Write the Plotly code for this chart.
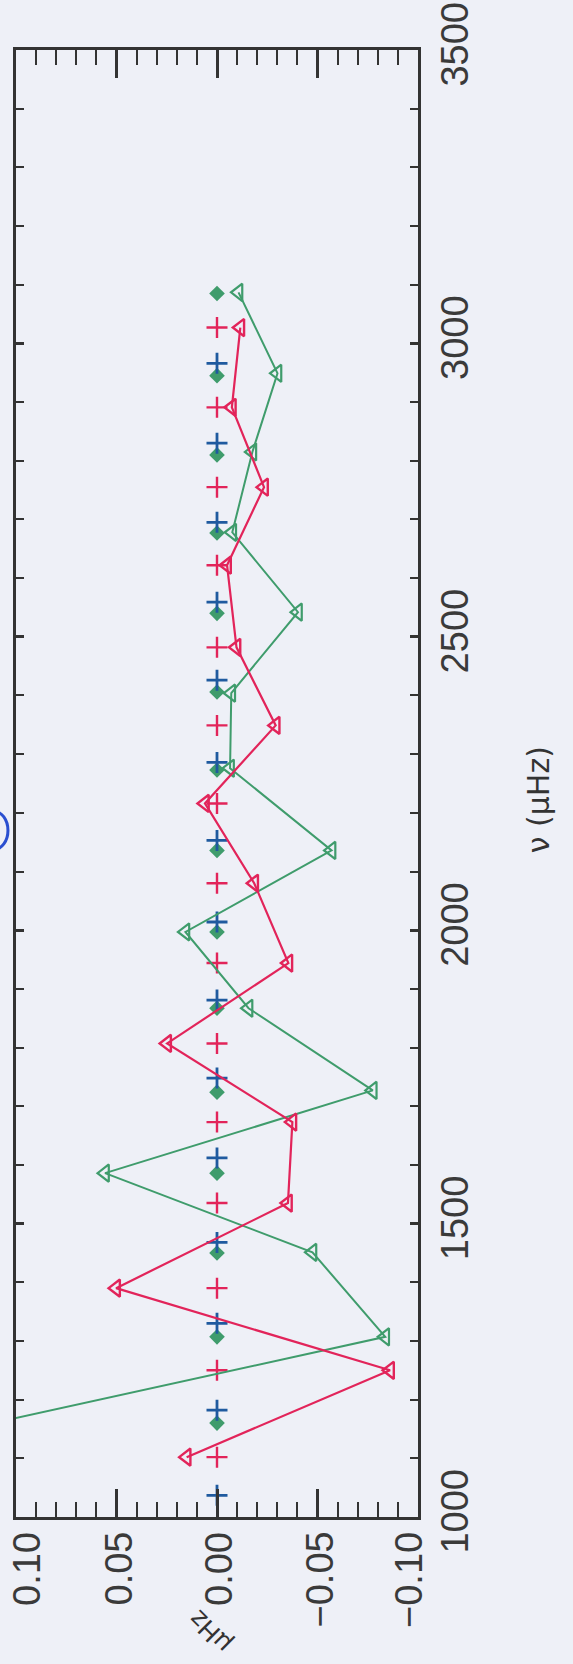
import plotly.graph_objects as go

# frequencies (muHz) and frequency differences
nu_red = [1102, 1250, 1390, 1535, 1673, 1807, 1944, 2080, 2216, 2349, 2482, 2622, 2755, 2891, 3027]
d_red = [0.0151, -0.0861, 0.0502, -0.0353, -0.0375, 0.0248, -0.0355, -0.0185, 0.006, -0.0292,
         -0.0097, -0.005, -0.0234, -0.0074, -0.0116]

nu_green = [1160, 1307, 1451, 1586, 1727, 1867, 1997, 2136, 2276, 2404, 2542, 2678, 2815, 2949, 3087]
d_green = [0.1115, -0.0837, -0.0475, 0.0557, -0.0775, -0.0157, 0.0157, -0.057, -0.0065, -0.0071,
           -0.0403, -0.0076, -0.0176, -0.0301, -0.0107]

nu_blue = [1037, 1182, 1330, 1468, 1612, 1748, 1881, 2014, 2153, 2286, 2426, 2559, 2695, 2830, 2966]
nu_diamond = [1160, 1307, 1450, 1586, 1724, 1867, 1997, 2136, 2273, 2406, 2540, 2677, 2810, 2945, 3085]

x_tickvals = [0.10, 0.05, 0.0, -0.05, -0.10]
x_ticktext = ["0.10", "0.05", "0.00", "\u22120.05", "\u22120.10"]
y_tickvals = [1000, 1500, 2000, 2500, 3000, 3500]
y_ticktext = ["1000", "1500", "2000", "2500", "3000", "3500"]

RED = "#e2245a"
GREEN = "#3f9c6c"
BLUE = "#1f5a9f"
BG = "#eef0f7"
AX = "#333333"

fig = go.Figure()

fig.add_trace(go.Scatter(
    x=[0] * len(nu_red), y=nu_red, mode="markers",
    marker=dict(symbol="cross-thin", size=15, line=dict(color=RED, width=2.4)),
))
fig.add_trace(go.Scatter(
    x=[0] * len(nu_diamond), y=nu_diamond, mode="markers",
    marker=dict(symbol="diamond", size=12, color=GREEN),
))
fig.add_trace(go.Scatter(
    x=[0] * len(nu_blue), y=nu_blue, mode="markers",
    marker=dict(symbol="cross-thin", size=15, line=dict(color=BLUE, width=2.8)),
))
fig.add_trace(go.Scatter(
    x=d_green, y=nu_green, mode="lines+markers",
    line=dict(color=GREEN, width=2),
    marker=dict(symbol="triangle-left-open", size=15, color=GREEN, line=dict(width=2.2)),
))
fig.add_trace(go.Scatter(
    x=d_red, y=nu_red, mode="lines+markers",
    line=dict(color=RED, width=2.2),
    marker=dict(symbol="triangle-left-open", size=15, color=RED, line=dict(width=2.4)),
))

tickfont = dict(family="Liberation Sans, Arial, sans-serif", size=38, color="#3a3a3a")

fig.update_xaxes(
    range=[0.10, -0.10], tickmode="array", tickvals=x_tickvals, showticklabels=False,
    ticks="inside", ticklen=28, tickwidth=2.5,
    tickcolor=AX, showline=True, linecolor=AX, linewidth=2.5, mirror="ticks",
    showgrid=False, zeroline=False, automargin=False,
    minor=dict(dtick=0.01, ticks="inside", ticklen=15, tickwidth=2, tickcolor=AX, showgrid=False),
)
fig.update_yaxes(
    range=[1000, 3500], side="right", tickmode="array", tickvals=y_tickvals, ticktext=y_ticktext,
    tickangle=-90, tickfont=tickfont, ticks="inside", ticklen=8, tickwidth=2.5,
    tickcolor=AX, showline=True, linecolor=AX, linewidth=2.5, mirror="ticks",
    showgrid=False, zeroline=False, ticklabelstandoff=2, ticklabeloverflow="allow",
    automargin=False,
    minor=dict(dtick=100, ticks="inside", ticklen=8, tickwidth=2, tickcolor=AX, showgrid=False),
)

# x tick labels (rotated, top-aligned under the axis)
for v, t in zip(x_tickvals, x_ticktext):
    shift = 11 if v == max(x_tickvals) else (-9 if v == min(x_tickvals) else 2)
    fig.add_annotation(
        text=t, xref="x", yref="paper", x=v, y=0, xanchor="center", yanchor="top",
        yshift=-13, xshift=shift, showarrow=False, textangle=-90, font=tickfont,
    )

fig.add_annotation(
    text="\u03bd (\u03bcHz)", xref="paper", yref="paper", x=1.30, y=0.489,
    xanchor="center", yanchor="middle",
    showarrow=False, textangle=-90, font=dict(family="DejaVu Sans", size=30, color="#333333"),
)
fig.add_annotation(
    text="\u03bcHz", xref="paper", yref="paper", x=0.483, y=-0.078,
    xanchor="center", yanchor="middle",
    showarrow=False, textangle=-135, font=dict(family="DejaVu Sans", size=25, color="#333333"),
)
fig.add_shape(
    type="circle", xref="paper", yref="paper", x0=-0.09, x1=-0.02, y0=0.455, y1=0.481,
    line=dict(color="#2a4fd0", width=3),
)

fig.update_layout(
    width=573, height=1664, showlegend=False,
    margin=dict(l=16, r=155, t=50, b=147, autoexpand=False),
    paper_bgcolor=BG, plot_bgcolor=BG,
)

fig.write_html("out.html")
